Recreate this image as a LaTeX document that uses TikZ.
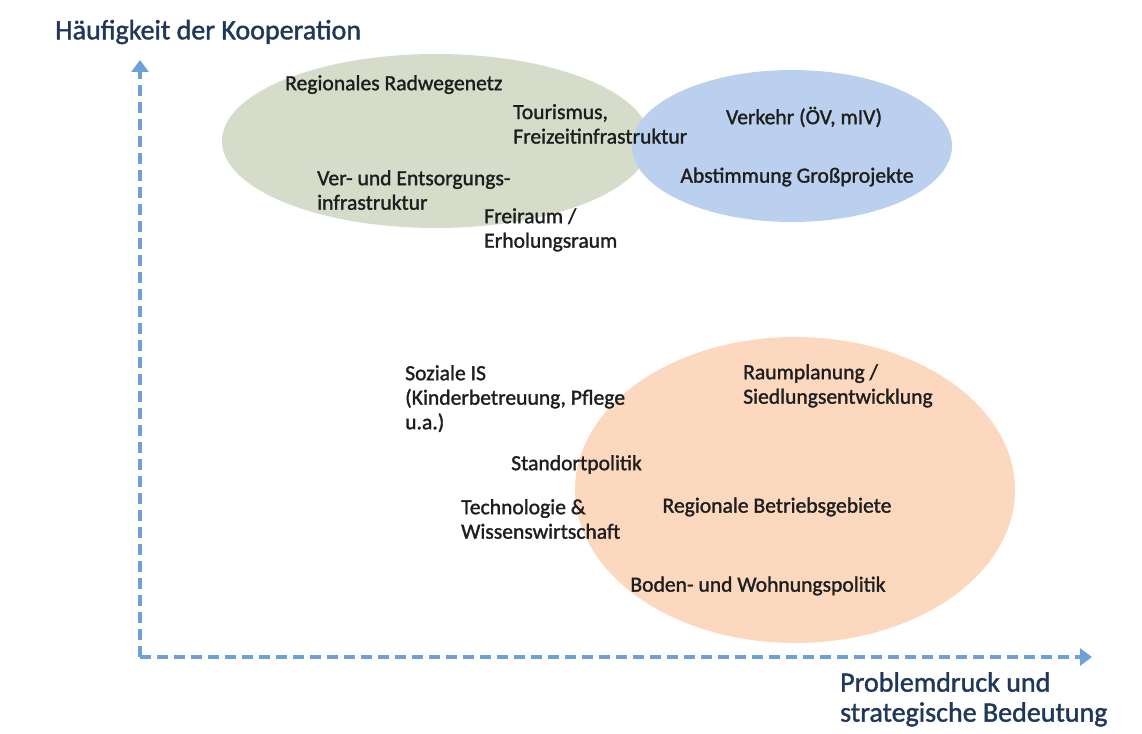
\documentclass[tikz,border=0pt]{standalone}
\usepackage{fontspec}
\setmainfont{Carlito}
\newfontfamily\thickfont[FakeBold=1.4]{Carlito}
\usetikzlibrary{arrows.meta,shapes.geometric}
\definecolor{greenfill}{RGB}{213,221,202}
\definecolor{bluefill}{RGB}{186,208,238}
\definecolor{orangefill}{RGB}{252,216,190}
\definecolor{axisblue}{RGB}{112,160,216}
\definecolor{titleblue}{RGB}{32,56,88}
\definecolor{txt}{RGB}{30,30,30}
\begin{document}
\begin{tikzpicture}[x=1pt,y=-1pt,
  blob/.style={ellipse, draw=none, inner sep=0pt},
  lbl/.style={font=\thickfont\fontsize{21.6}{24.5}\selectfont, text=txt, inner sep=0pt, align=left},
  lblc/.style={font=\thickfont\fontsize{21.6}{24.5}\selectfont, text=txt, inner sep=0pt},
  axtitle/.style={font=\thickfont\fontsize{28}{30}\selectfont, text=titleblue, inner sep=0pt, align=left},
  axis/.style={draw=axisblue, line width=4pt, dash pattern=on 11pt off 6pt,
    -{Triangle[width=17pt,length=12pt]}}]
\useasboundingbox (0,0) rectangle (1142,733);
% ellipses
\node[blob, fill=greenfill, minimum width=428pt, minimum height=174pt] (green) at (436,141) {};
\node[blob, fill=bluefill, minimum width=320pt, minimum height=152pt] (blue) at (792,146) {};
\node[blob, fill=orangefill, minimum width=440pt, minimum height=306pt] (orange) at (795,490) {};
% axes
\coordinate (origin) at (140,657);
\coordinate (ytop) at (140,60);
\coordinate (xend) at (1092,657);
\draw[axis] (origin) -- (ytop);
\draw[axis] (origin) -- (xend);
% axis titles
\node[axtitle, anchor=west] (ytitle) at (55,32) {Häufigkeit der Kooperation};
\node[axtitle, anchor=north west] (xtitle) at (840,672) {Problemdruck und\\strategische Bedeutung};
% labels
\node[lbl, anchor=north west] (rad) at (285,75) {Regionales Radwegenetz};
\node[lbl, anchor=north west] (tour) at (513,104) {Tourismus,\\Freizeitinfrastruktur};
\node[lbl, anchor=north west] (ver) at (317,170) {Ver- und Entsorgungs-\\infrastruktur};
\node[lbl, anchor=north west] (frei) at (484,208) {Freiraum /\\Erholungsraum};
\node[lblc] (verk) at (804,117) {Verkehr (ÖV, mIV)};
\node[lblc] (abst) at (797,177) {Abstimmung Großprojekte};
\node[lbl, anchor=north west] (soz) at (405,365) {Soziale IS\\(Kinderbetreuung, Pflege\\u.a.)};
\node[lbl, anchor=north west] (stand) at (511,455) {Standortpolitik};
\node[lbl, anchor=north west] (tech) at (461,499) {Technologie \&\\Wissenswirtschaft};
\node[lbl, anchor=north west] (raum) at (743,364) {Raumplanung /\\Siedlungsentwicklung};
\node[lblc] (betr) at (777,507) {Regionale Betriebsgebiete};
\node[lblc] (boden) at (758,586) {Boden- und Wohnungspolitik};
\end{tikzpicture}
\end{document}
